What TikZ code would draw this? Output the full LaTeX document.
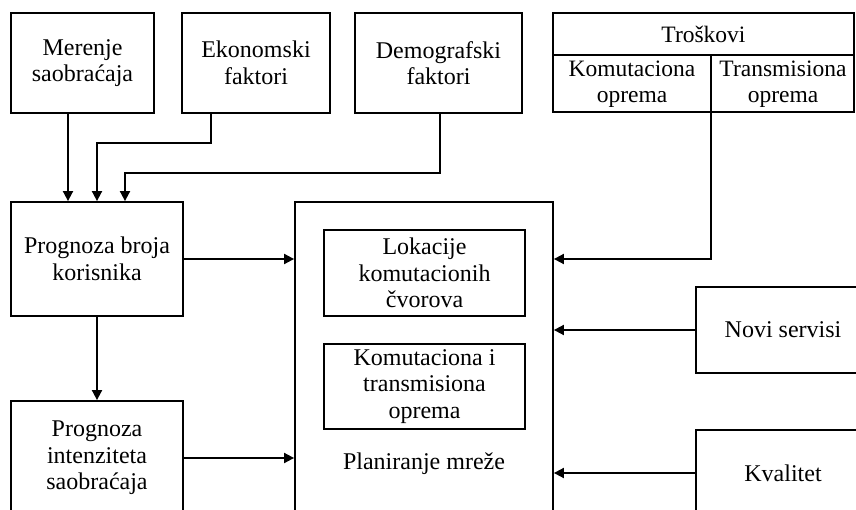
\documentclass[tikz,border=0pt]{standalone}
\usepackage{fontspec}
\setmainfont{Liberation Serif}
\usetikzlibrary{arrows.meta,positioning}
\begin{document}
\begin{tikzpicture}[x=1pt,y=-1pt,
  line width=1.8pt,
  box/.style={draw, line width=1.8pt, align=center, inner sep=0pt,
    font=\fontsize{24}{26.5}\selectfont},
  lbl/.style={align=center, inner sep=0pt, font=\fontsize{24}{26.5}\selectfont},
  tbl/.style={align=center, inner sep=0pt, font=\fontsize{23.5}{26}\selectfont},
  arr/.style={-{Triangle[length=10pt,width=10pt]}, line width=1.8pt}]
\useasboundingbox (0,0) rectangle (856,510);
\clip (0,0) rectangle (856,510);

% top row of inputs
\node[box, minimum width=143, minimum height=100] (mer) at (82.5,63) {Merenje\\saobraćaja};
\node[box, minimum width=148, minimum height=100] (eko) at (256,63) {Ekonomski\\faktori};
\node[box, minimum width=167, minimum height=100] (dem) at (438.5,63) {Demografski\\faktori};

% cost table
\node[draw, line width=1.8pt, minimum width=301, minimum height=99, inner sep=0pt] (tro) at (703.5,62.5) {};
\draw (tro.west |- 0,55) -- (tro.east |- 0,55);
\coordinate (split) at (711,112);
\draw (split |- 0,55) -- (split);
\node[tbl] (trohead) at (703.5,34) {Troškovi};
\node[tbl] (trokom) at (632,84) {Komutaciona\\oprema};
\node[tbl] (trotra) at (783,84) {Transmisiona\\oprema};

% forecasts
\node[box, minimum width=172, minimum height=114] (pbk) at (97,259) {Prognoza broja\\korisnika};
\node[box, minimum width=172, minimum height=114] (pis) at (97,458) {Prognoza\\intenziteta\\saobraćaja};

% network planning block
\node[draw, line width=1.8pt, minimum width=258, minimum height=320, inner sep=0pt] (plan) at (424,362) {};
\node[box, minimum width=201, minimum height=86] (lok) at (424.5,273) {Lokacije\\komutacionih\\čvorova};
\node[box, minimum width=201, minimum height=85] (kto) at (424.5,386.5) {Komutaciona i\\transmisiona\\oprema};
\node[lbl] (plantxt) at (424,464) {Planiranje mreže};

% right-hand inputs
\node[box, minimum width=174, minimum height=86] (novi) at (783,330) {Novi servisi};
\node[box, minimum width=174, minimum height=86] (kval) at (783,473) {Kvalitet};

% connectors
\draw[arr] ([xshift=-14.5pt]mer.south) -- ([xshift=-14.5pt]mer.south |- pbk.north);
\draw[arr] ([xshift=-45pt]eko.south) |- ([yshift=58pt]pbk.north) -- (pbk.north);
\draw[arr] ([xshift=1.5pt]dem.south) |- ([xshift=28pt,yshift=28pt]pbk.north) -- ([xshift=28pt]pbk.north);
\draw[arr] (pbk.east) -- (pbk.east -| plan.west);
\draw[arr] (pbk.south) -- (pis.north);
\draw[arr] (pis.east) -- (pis.east -| plan.west);
\draw[arr] (split) |- (pbk.east -| plan.east);
\draw[arr] (novi.west) -- (novi.west -| plan.east);
\draw[arr] (kval.west) -- (kval.west -| plan.east);
\end{tikzpicture}
\end{document}
